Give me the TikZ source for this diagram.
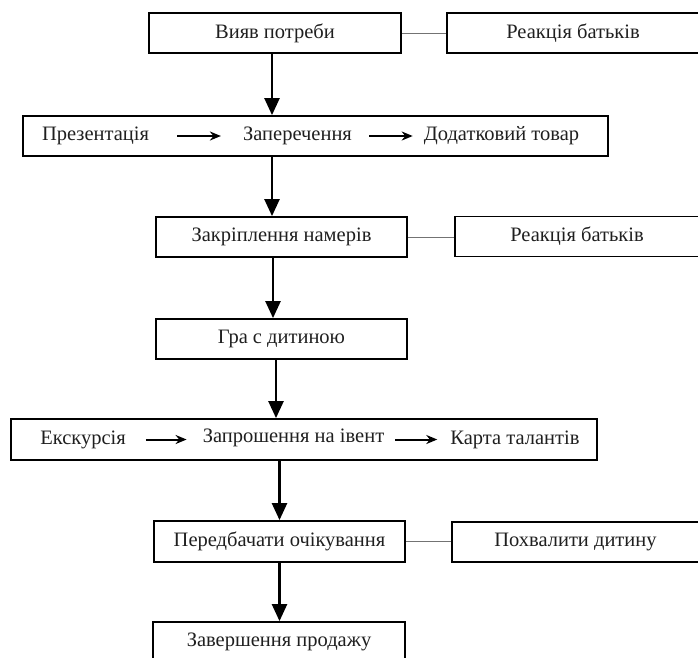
\documentclass[tikz,border=0pt]{standalone}
\usepackage{fontspec}
\setmainfont{Liberation Serif}
\usetikzlibrary{arrows.meta}
\tikzset{
  box/.style={draw=black, line width=1.8pt, rectangle, minimum height=40pt, inner sep=0pt,
    font=\fontsize{20.5}{24}\selectfont, text=black!88},
  lbl/.style={inner sep=0pt, font=\fontsize{20.5}{24}\selectfont, text=black!88},
  mainarrow/.style={line width=2.4pt, -{Triangle[length=17pt,width=15pt]}},
  innerarrow/.style={line width=2pt, -{Stealth[length=11pt,width=9pt]}},
  link/.style={draw=black!55, line width=1pt}
}
\begin{document}
\begin{tikzpicture}[x=1pt,y=-1pt]
\useasboundingbox (0,0) rectangle (698,657);
\clip (0,0) rectangle (698,657);
% row 1
\node[box, minimum width=252pt] (b1) at (275,33) {Вияв потреби};
\node[box, minimum width=252pt] (r1) at (573,33) {Реакція батьків};
% row 2
\node[box, minimum width=585pt] (b2) at (315.5,136) {};
\node[lbl] (t21) at (95.5,136) {Презентація};
\node[lbl] (t22) at (297.5,136) {Заперечення};
\node[lbl] (t23) at (501.5,136) {Додатковий товар};
% row 3
\node[box, minimum width=251pt] (b3) at (281.5,237) {Закріплення намерів};
\node[box, minimum width=244pt] (r3) at (577,236.5) {Реакція батьків};
% row 4
\node[box, minimum width=251pt] (b4) at (281.5,339) {Гра с дитиною};
% row 5
\node[box, minimum width=586pt, minimum height=41pt] (b5) at (304,439.5) {};
\node[lbl] (t51) at (83,439.5) {Екскурсія};
\node[lbl] (t52) at (293.5,437.5) {Запрошення на івент};
\node[lbl] (t53) at (515,439.5) {Карта талантів};
% row 6
\node[box, minimum width=251pt, minimum height=41pt] (b6) at (279.5,541.5) {Передбачати очікування};
\node[box, minimum width=247pt] (r6) at (575.5,542) {Похвалити дитину};
% row 7
\node[box, minimum width=252pt] (b7) at (279,642) {Завершення продажу};
% side links
\draw[link] (b1.east) -- (r1.west |- b1.east);
\draw[link] (b3.east) -- (r3.west |- b3.east);
\draw[link] (b6.east) -- (r6.west |- b6.east);
% inner arrows
\draw[innerarrow, shorten <=28pt, shorten >=22pt] (t21.east) -- (t22.west);
\draw[innerarrow, shorten <=17pt, shorten >=11pt] (t22.east) -- (t23.west);
\draw[innerarrow, shorten <=20pt, shorten >=16pt] (t51.east) -- (t52.west |- t51.east);
\draw[innerarrow, shorten <=11pt, shorten >=13pt] (t52.east |- t53.west) -- (t53.west);
% main arrows
\draw[mainarrow] ([xshift=-3pt]b1.south) -- ([xshift=-3pt]b1.south |- b2.north);
\draw[mainarrow] (b2.south -| 272,0) -- (b3.north -| 272,0);
\draw[mainarrow] ([xshift=-8.5pt]b3.south) -- ([xshift=-8.5pt]b3.south |- b4.north);
\draw[mainarrow] ([xshift=-5.5pt]b4.south) -- ([xshift=-5.5pt]b4.south |- b5.north);
\draw[mainarrow] (b5.south -| b6.north) -- (b6.north);
\draw[mainarrow] (b6.south) -- (b6.south |- b7.north);
\end{tikzpicture}
\end{document}
